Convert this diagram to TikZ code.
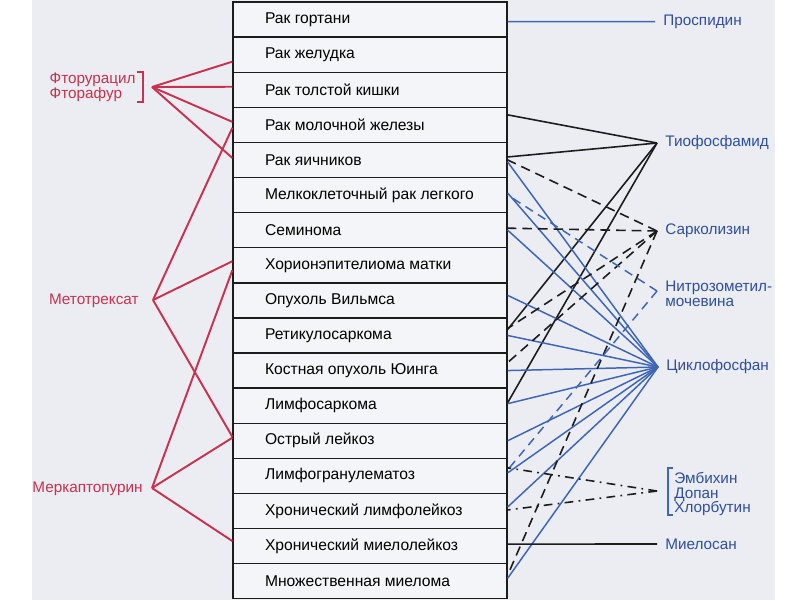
\documentclass[tikz,border=0pt]{standalone}
\usepackage{fontspec}
\setmainfont{Liberation Sans}
\usepackage{xcolor}
\usepackage{tikz}
\usetikzlibrary{calc}
\definecolor{redx}{HTML}{C8324F}
\definecolor{bluex}{HTML}{3F66B4}
\definecolor{bluetxt}{HTML}{2F4F9A}
\definecolor{inkx}{HTML}{1C1C1C}
\definecolor{pagebg}{HTML}{EBEDF3}
\definecolor{cellbg}{HTML}{F4F5F8}
\tikzset{
  cell/.style={draw=inkx,line width=0.8pt,fill=cellbg,minimum width=5.48cm,minimum height=0.702cm,inner sep=0pt,font=\fontsize{8.9}{9}\selectfont},
  rd/.style={redx,line width=1.1pt},
  bl/.style={bluex,line width=0.85pt},
  bld/.style={bl,dash pattern=on 5pt off 3.4pt},
  bk/.style={inkx,line width=0.9pt},
  bkd/.style={bk,dash pattern=on 5.5pt off 3.4pt},
  bkdd/.style={bk,dash pattern=on 5pt off 3pt on 1pt off 3pt},
  lr/.style={text=redx,font=\fontsize{8.7}{8.4}\selectfont,align=left,inner sep=0pt,anchor=east},
  lb/.style={text=bluetxt,font=\fontsize{8.7}{8.2}\selectfont,align=left,inner ysep=0pt,inner xsep=0.16cm,anchor=west}
}

\begin{document}
\begin{tikzpicture}[x=0.02cm,y=-0.02cm]
\useasboundingbox (0,0) rectangle (800,600);
\fill[white] (0,0) rectangle (800,600);
\fill[pagebg] (32,0) rectangle (775,600);
% drugs
\coordinate (fluo) at (152,87);
\coordinate (meto) at (153,300);
\coordinate (merc) at (152,488);
\coordinate (prosp) at (655,21.5);
\coordinate (tio) at (657,143);
\coordinate (sark) at (657,231);
\coordinate (nitro) at (657,291);
\coordinate (cyclo) at (658,367);
\coordinate (emb) at (657,491);
\coordinate (myel) at (657,544);
% tumours
\foreach \t [count=\i] in {Рак гортани,Рак желудка,Рак толстой кишки,Рак молочной железы,Рак яичников,Мелкоклеточный рак легкого,Семинома,Хорионэпителиома матки,Опухоль Вильмса,Ретикулосаркома,Костная опухоль Юинга,Лимфосаркома,Острый лейкоз,Лимфогранулематоз,Хронический лимфолейкоз,Хронический миелолейкоз,Множественная миелома}
  \node[cell] (r\i) at (370,{2+35.1*(\i-0.5)}) {\makebox[4.2cm][l]{\t}};
% left side
\node[lr] (fluolbl) at (136,87) {Фторурацил\\Фторафур};
\draw[rd,line width=0.9pt] (137,72) -- (143,72) -- (143,102) -- (137,102);
\node[lr] (metolbl) at (139,301) {Метотрексат};
\node[lr] (merclbl) at (143,489) {Меркаптопурин};
\foreach \r/\d in {2/7,3/-3,4/-3,5/-2} \draw[rd] (fluo) -- ($(r\r.west)+(0,\d)$);
\foreach \r/\d in {4/3,8/-4,13/-4} \draw[rd] (meto) -- ($(r\r.west)+(0,\d)$);
\foreach \r/\d in {8/5,13/-3,16/-5} \draw[rd] (merc) -- ($(r\r.west)+(0,\d)$);
% right side
\node[lb] (prosplbl) at (prosp) {Проспидин};
\node[lb] (tiolbl) at (tio) {Тиофосфамид};
\node[lb] (sarklbl) at (sark) {Сарколизин};
\node[lb] (nitrolbl) at ($(nitro)+(0,3)$) {Нитрозометил-\\мочевина};
\node[lb] (cyclolbl) at (cyclo) {Циклофосфан};
\node[lb,inner xsep=0.34cm] (emblbl) at ($(emb)+(0,3)$) {Эмбихин\\Допан\\Хлорбутин};
\draw[bl] (673,468) -- (668,468) -- (668,515) -- (673,515);
\node[lb] (myellbl) at (myel) {Миелосан};
\draw[bl] (prosp) -- ($(r1.east)+(0,2)$);
\foreach \r/\d in {4/-10,5/-3,10/-6,12/-3} \draw[bk] (tio) -- ($(r\r.east)+(0,\d)$);
\foreach \r/\d in {5/2,6/-2,7/0,9/-5,10/0,11/0,12/-2,13/0,14/-3,15/-4,17/-3} \draw[bl] (cyclo) -- ($(r\r.east)+(0,\d)$);
\foreach \r/\d in {5/0,7/-2,10/-7,11/-8,17/-6} \draw[bkd] (sark) -- ($(r\r.east)+(0,\d)$);
\foreach \r/\d in {6/0,14/-6} \draw[bld] (nitro) -- ($(r\r.east)+(0,\d)$);
\foreach \r/\d in {14/-8,15/-1} \draw[bkdd] (emb) -- ($(r\r.east)+(0,\d)$);
\draw[bk] (myel) -- ($(r16.east)+(0,-2)$);
\end{tikzpicture}
\end{document}
